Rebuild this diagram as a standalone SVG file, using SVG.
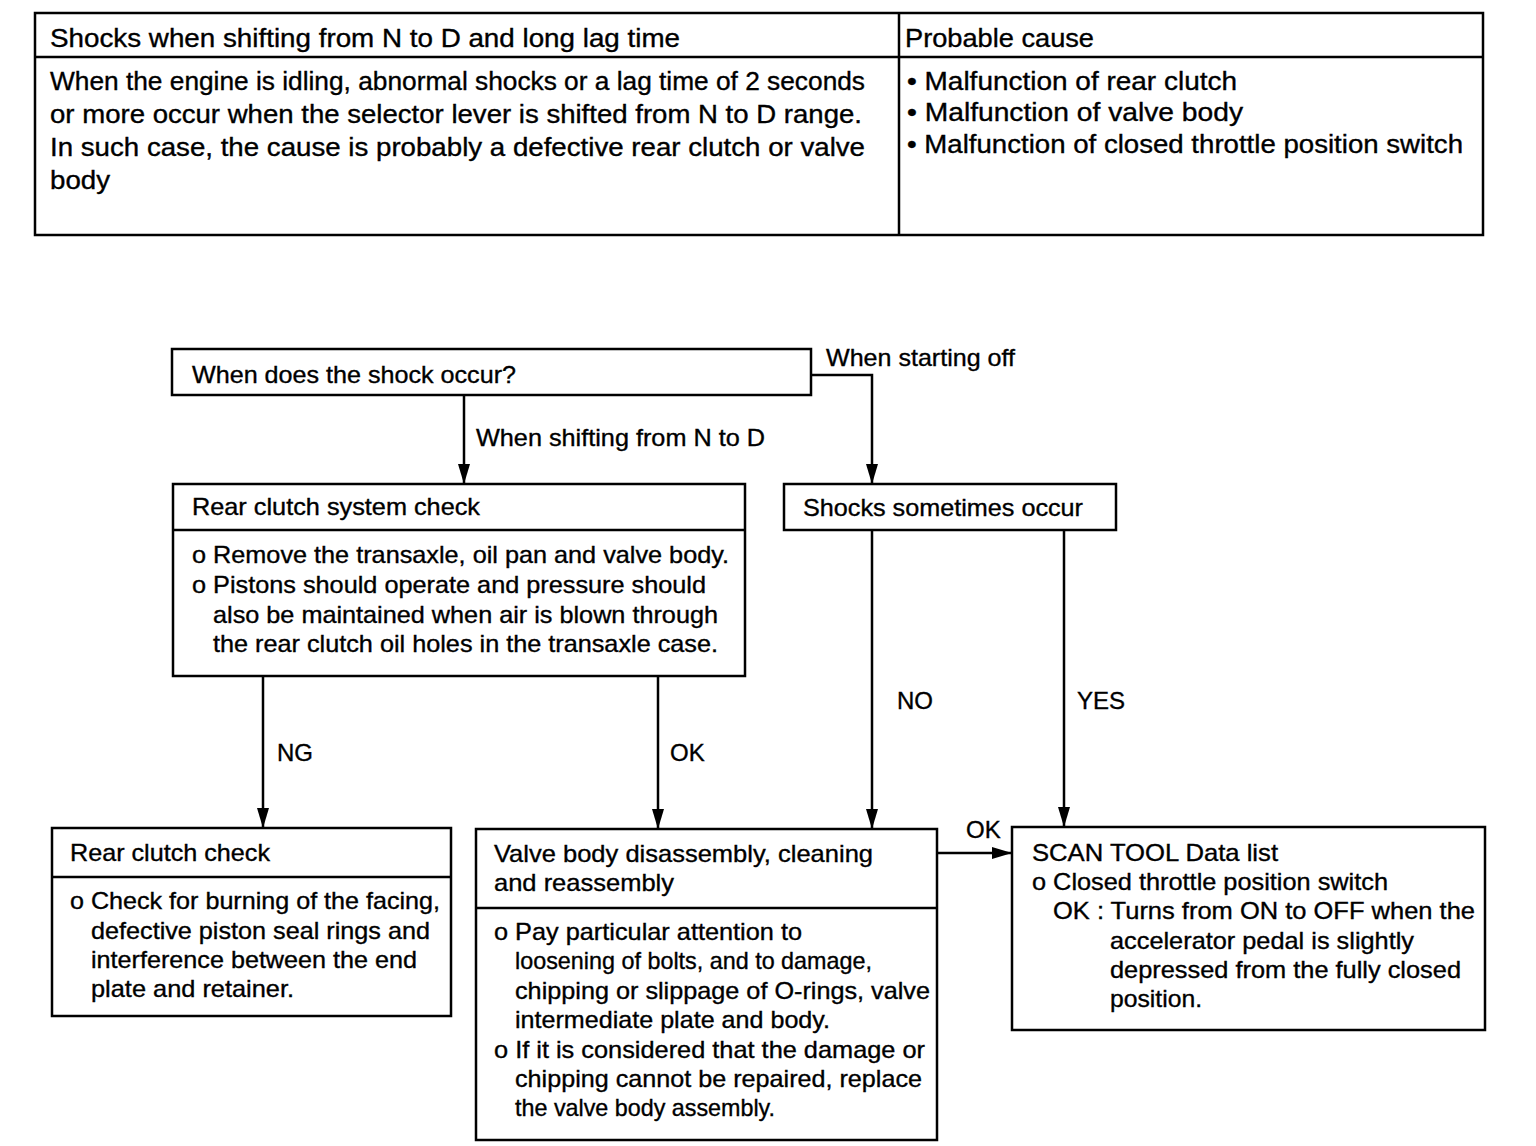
<svg xmlns="http://www.w3.org/2000/svg" width="1536" height="1146" viewBox="0 0 1536 1146">
<defs>
<style>
.b{fill:#fff;stroke:#000;stroke-width:2.5}
.l{fill:none;stroke:#000;stroke-width:2.5}
text{font-family:"Liberation Sans",Arial,Helvetica,sans-serif;font-size:25px;fill:#000;stroke:#000;stroke-width:0.35}
.f{font-size:24px}
</style>
<marker id="ah" viewBox="0 0 20 14" refX="20" refY="7" markerWidth="20" markerHeight="14" markerUnits="userSpaceOnUse" orient="auto">
<path d="M0,1 L20,7 L0,13 Z" fill="#000"/>
</marker>
</defs>
<rect width="1536" height="1146" fill="#fff"/>

<g id="table">
<rect class="b" x="35" y="13" width="1448" height="222"/>
<line class="l" x1="35" y1="57" x2="1483" y2="57"/>
<line class="l" x1="899" y1="13" x2="899" y2="235"/>
<text x="50" y="47" textLength="630" lengthAdjust="spacingAndGlyphs">Shocks when shifting from N to D and long lag time</text>
<text x="905" y="47" textLength="189" lengthAdjust="spacingAndGlyphs">Probable cause</text>
<text x="50" y="90" textLength="815" lengthAdjust="spacingAndGlyphs">When the engine is idling, abnormal shocks or a lag time of 2 seconds</text>
<text x="50" y="123" textLength="812" lengthAdjust="spacingAndGlyphs">or more occur when the selector lever is shifted from N to D range.</text>
<text x="50" y="156" textLength="815" lengthAdjust="spacingAndGlyphs">In such case, the cause is probably a defective rear clutch or valve</text>
<text x="50" y="189" textLength="60" lengthAdjust="spacingAndGlyphs">body</text>
<text x="907" y="90" textLength="330" lengthAdjust="spacingAndGlyphs">• Malfunction of rear clutch</text>
<text x="907" y="121" textLength="336" lengthAdjust="spacingAndGlyphs">• Malfunction of valve body</text>
<text x="907" y="153" textLength="556" lengthAdjust="spacingAndGlyphs">• Malfunction of closed throttle position switch</text>
</g>

<g id="connectors">
<polyline class="l" points="811,375 872,375 872,484" marker-end="url(#ah)"/>
<line class="l" x1="464" y1="395" x2="464" y2="484" marker-end="url(#ah)"/>
<line class="l" x1="872" y1="530" x2="872" y2="829" marker-end="url(#ah)"/>
<line class="l" x1="1064" y1="530" x2="1064" y2="827" marker-end="url(#ah)"/>
<line class="l" x1="263" y1="676" x2="263" y2="828" marker-end="url(#ah)"/>
<line class="l" x1="658" y1="676" x2="658" y2="829" marker-end="url(#ah)"/>
<line class="l" x1="937" y1="853" x2="1012" y2="853" marker-end="url(#ah)"/>
<text class="f" x="826" y="366" textLength="189" lengthAdjust="spacingAndGlyphs">When starting off</text>
<text class="f" x="476" y="446" textLength="289" lengthAdjust="spacingAndGlyphs">When shifting from N to D</text>
<text class="f" x="897" y="709">NO</text>
<text class="f" x="1077" y="709">YES</text>
<text class="f" x="277" y="761">NG</text>
<text class="f" x="670" y="761">OK</text>
<text class="f" x="966" y="838">OK</text>
</g>

<g id="q-shock">
<rect class="b" x="172" y="349" width="639" height="46"/>
<text class="f" x="192" y="383" textLength="324" lengthAdjust="spacingAndGlyphs">When does the shock occur?</text>
</g>

<g id="rear-clutch-system">
<rect class="b" x="173" y="484" width="572" height="192"/>
<line class="l" x1="173" y1="530" x2="745" y2="530"/>
<text class="f" x="192" y="515" textLength="288" lengthAdjust="spacingAndGlyphs">Rear clutch system check</text>
<text class="f" x="192" y="563" textLength="537" lengthAdjust="spacingAndGlyphs">o Remove the transaxle, oil pan and valve body.</text>
<text class="f" x="192" y="593" textLength="514" lengthAdjust="spacingAndGlyphs">o Pistons should operate and pressure should</text>
<text class="f" x="213" y="623" textLength="505" lengthAdjust="spacingAndGlyphs">also be maintained when air is blown through</text>
<text class="f" x="213" y="652" textLength="505" lengthAdjust="spacingAndGlyphs">the rear clutch oil holes in the transaxle case.</text>
</g>

<g id="shocks-sometimes">
<rect class="b" x="784" y="484" width="332" height="46"/>
<text class="f" x="803" y="516" textLength="280" lengthAdjust="spacingAndGlyphs">Shocks sometimes occur</text>
</g>

<g id="rear-clutch-check">
<rect class="b" x="52" y="828" width="399" height="188"/>
<line class="l" x1="52" y1="877" x2="451" y2="877"/>
<text class="f" x="70" y="861" textLength="200" lengthAdjust="spacingAndGlyphs">Rear clutch check</text>
<text class="f" x="70" y="909" textLength="370" lengthAdjust="spacingAndGlyphs">o Check for burning of the facing,</text>
<text class="f" x="91" y="939" textLength="339" lengthAdjust="spacingAndGlyphs">defective piston seal rings and</text>
<text class="f" x="91" y="968" textLength="326" lengthAdjust="spacingAndGlyphs">interference between the end</text>
<text class="f" x="91" y="997" textLength="203" lengthAdjust="spacingAndGlyphs">plate and retainer.</text>
</g>

<g id="valve-body">
<rect class="b" x="476" y="829" width="461" height="311"/>
<line class="l" x1="476" y1="908" x2="937" y2="908"/>
<text class="f" x="494" y="862" textLength="379" lengthAdjust="spacingAndGlyphs">Valve body disassembly, cleaning</text>
<text class="f" x="494" y="891" textLength="180" lengthAdjust="spacingAndGlyphs">and reassembly</text>
<text class="f" x="494" y="940" textLength="308" lengthAdjust="spacingAndGlyphs">o Pay particular attention to</text>
<text class="f" x="515" y="969" textLength="357" lengthAdjust="spacingAndGlyphs">loosening of bolts, and to damage,</text>
<text class="f" x="515" y="999" textLength="415" lengthAdjust="spacingAndGlyphs">chipping or slippage of O-rings, valve</text>
<text class="f" x="515" y="1028" textLength="315" lengthAdjust="spacingAndGlyphs">intermediate plate and body.</text>
<text class="f" x="494" y="1058" textLength="431" lengthAdjust="spacingAndGlyphs">o If it is considered that the damage or</text>
<text class="f" x="515" y="1087" textLength="407" lengthAdjust="spacingAndGlyphs">chipping cannot be repaired, replace</text>
<text class="f" x="515" y="1116" textLength="260" lengthAdjust="spacingAndGlyphs">the valve body assembly.</text>
</g>

<g id="scan-tool">
<rect class="b" x="1012" y="827" width="473" height="203"/>
<text class="f" x="1032" y="861" textLength="246" lengthAdjust="spacingAndGlyphs">SCAN TOOL Data list</text>
<text class="f" x="1032" y="890" textLength="356" lengthAdjust="spacingAndGlyphs">o Closed throttle position switch</text>
<text class="f" x="1053" y="919" textLength="422" lengthAdjust="spacingAndGlyphs">OK : Turns from ON to OFF when the</text>
<text class="f" x="1110" y="949" textLength="304" lengthAdjust="spacingAndGlyphs">accelerator pedal is slightly</text>
<text class="f" x="1110" y="978" textLength="351" lengthAdjust="spacingAndGlyphs">depressed from the fully closed</text>
<text class="f" x="1110" y="1007" textLength="92" lengthAdjust="spacingAndGlyphs">position.</text>
</g>
</svg>
